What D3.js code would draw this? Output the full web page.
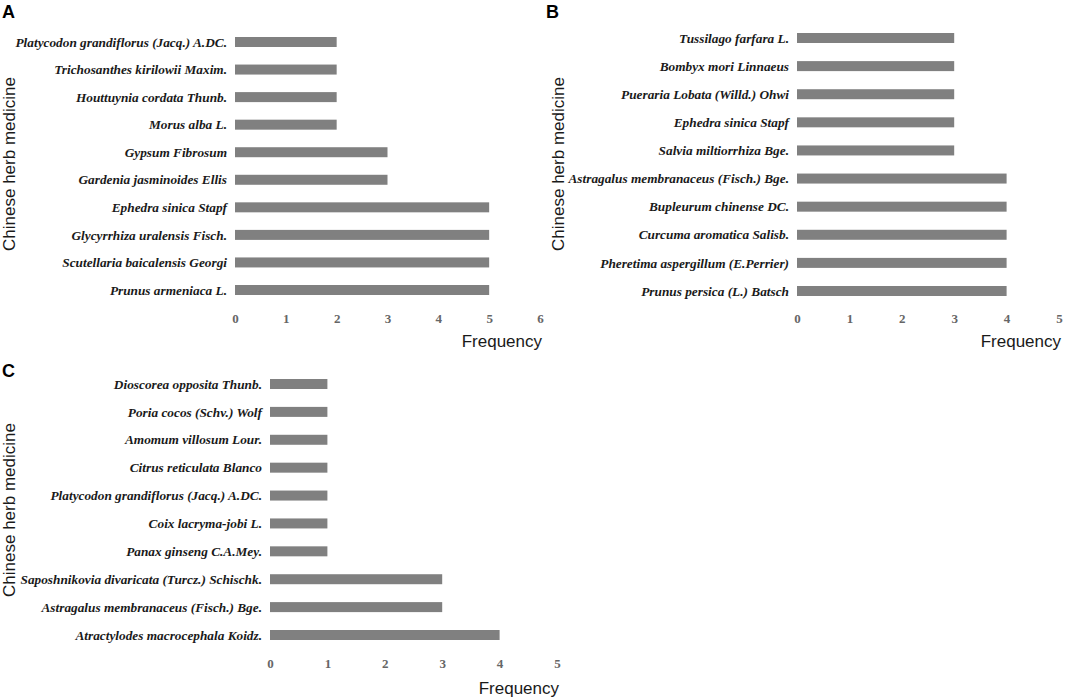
<!DOCTYPE html>
<html>
<head>
    <title>Chinese herb medicine frequency</title>
    <script src="https://d3js.org/d3.v7.min.js"></script>
    <style>
        body { margin: 0; background: #fff; }
        .herb { font-family: "Liberation Serif", "Times New Roman", serif; font-style: italic; font-weight: bold; font-size: 13.3px; fill: #1a1a1a; }
        .tick-num { font-family: "Liberation Serif", "Times New Roman", serif; font-weight: bold; font-size: 13px; fill: #666; }
        .axis-title { font-family: "Liberation Sans", Arial, sans-serif; font-size: 17px; fill: #1a1a1a; }
        .panel-tag { font-family: "Liberation Sans", Arial, sans-serif; font-weight: bold; font-size: 18px; fill: #000; }
    </style>
</head>
<body>
<svg id="chart" width="1065" height="698"></svg>
<script>
// panel A
const herbsA = ["Platycodon grandiflorus (Jacq.) A.DC.", "Trichosanthes kirilowii Maxim.", "Houttuynia cordata Thunb.",
    "Morus alba L.", "Gypsum Fibrosum", "Gardenia jasminoides Ellis", "Ephedra sinica Stapf",
    "Glycyrrhiza uralensis Fisch.", "Scutellaria baicalensis Georgi", "Prunus armeniaca L."];
const freqA = [2, 2, 2, 2, 3, 3, 5, 5, 5, 5];
const ticksA = [0, 1, 2, 3, 4, 5, 6];

// panel B
const herbsB = ["Tussilago farfara L.", "Bombyx mori Linnaeus", "Pueraria Lobata (Willd.) Ohwi", "Ephedra sinica Stapf",
    "Salvia miltiorrhiza Bge.", "Astragalus membranaceus (Fisch.) Bge.", "Bupleurum chinense DC.",
    "Curcuma aromatica Salisb.", "Pheretima aspergillum (E.Perrier)", "Prunus persica (L.) Batsch"];
const freqB = [3, 3, 3, 3, 3, 4, 4, 4, 4, 4];
const ticksB = [0, 1, 2, 3, 4, 5];

// panel C
const herbsC = ["Dioscorea opposita Thunb.", "Poria cocos (Schv.) Wolf", "Amomum villosum Lour.", "Citrus reticulata Blanco",
    "Platycodon grandiflorus (Jacq.) A.DC.", "Coix lacryma-jobi L.", "Panax ginseng C.A.Mey.",
    "Saposhnikovia divaricata (Turcz.) Schischk.", "Astragalus membranaceus (Fisch.) Bge.", "Atractylodes macrocephala Koidz."];
const freqC = [1, 1, 1, 1, 1, 1, 1, 3, 3, 4];
const ticksC = [0, 1, 2, 3, 4, 5];

const svg = d3.select("#chart");

function drawPanel(tag, herbs, freq, ticks, box) {
    const g = svg.append("g");

    const x = d3.scaleLinear()
        .domain([0, d3.max(ticks)])
        .range([box.x0, box.x1]);

    const y = d3.scalePoint()
        .domain(herbs)
        .range([box.y0, box.y1]);

    const barH = 10;

    g.selectAll("rect")
        .data(herbs)
        .enter()
        .append("rect")
        .attr("x", x(0))
        .attr("y", d => y(d) - barH / 2)
        .attr("width", (d, i) => x(freq[i]) - x(0))
        .attr("height", barH)
        .attr("fill", "#808080");

    // herb names
    g.selectAll("text.herb")
        .data(herbs)
        .enter()
        .append("text")
        .attr("class", "herb")
        .attr("x", x(0) - 8)
        .attr("y", d => y(d))
        .attr("dy", "0.35em")
        .attr("text-anchor", "end")
        .text(d => d);

    // x axis, no line, only numbers
    const axis = d3.axisBottom(x).tickValues(ticks).tickSize(0).tickPadding(0).tickFormat(d3.format("d"));
    const ax = g.append("g")
        .attr("transform", `translate(0,${box.tickY})`)
        .call(axis);
    ax.select(".domain").remove();
    ax.selectAll("text").attr("class", "tick-num").attr("fill", null).attr("font-size", null).attr("font-family", null);

    g.append("text")
        .attr("class", "axis-title")
        .attr("x", box.x1 + 2)
        .attr("y", box.freqY)
        .attr("text-anchor", "end")
        .text("Frequency");

    g.append("text")
        .attr("class", "axis-title")
        .attr("transform", `translate(${box.titleX},${box.titleY}) rotate(-90)`)
        .attr("text-anchor", "middle")
        .attr("dy", "0.35em")
        .text("Chinese herb medicine");

    g.append("text")
        .attr("class", "panel-tag")
        .attr("x", box.tagX)
        .attr("y", box.tagY)
        .text(tag);
}

drawPanel("A", herbsA, freqA, ticksA,
    { x0: 235, x1: 540, y0: 42, y1: 290, tickY: 314, freqY: 347, titleX: 9, titleY: 164, tagX: 2, tagY: 18 });
drawPanel("B", herbsB, freqB, ticksB,
    { x0: 797, x1: 1059, y0: 38, y1: 291, tickY: 314, freqY: 347, titleX: 558, titleY: 164, tagX: 546, tagY: 18 });
drawPanel("C", herbsC, freqC, ticksC,
    { x0: 270, x1: 557, y0: 384, y1: 635, tickY: 659, freqY: 694, titleX: 9, titleY: 510, tagX: 2, tagY: 377 });
</script>
</body>
</html>
